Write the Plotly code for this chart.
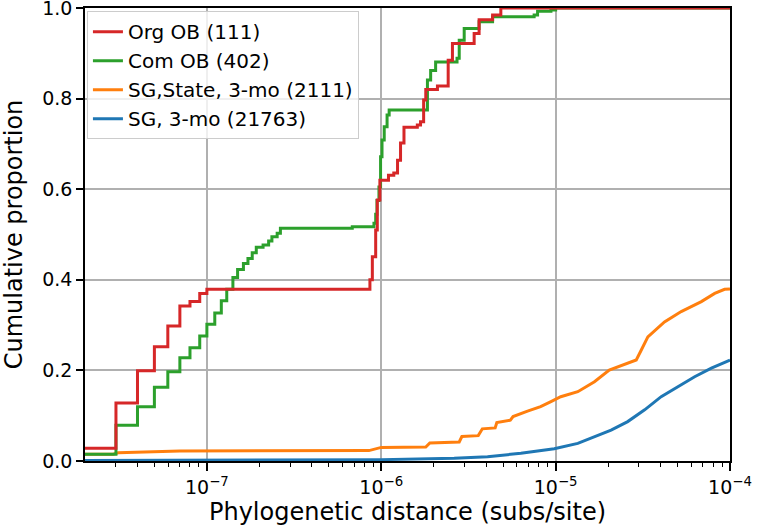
import plotly.graph_objects as go

# --------------------------------------------------------------
# ECDF values (distance, cumulative share)
# --------------------------------------------------------------
org_x = [2e-8, 3.01e-8, 4.0e-8, 5.0e-8, 5.97e-8, 7.0e-8, 8.0e-8, 9.1e-8, 1.0e-7,
         8.61e-7, 8.89e-7, 9.29e-7, 9.49e-7, 9.82e-7, 1.10e-6, 1.18e-6, 1.24e-6,
         1.29e-6, 1.35e-6, 1.61e-6, 1.68e-6, 1.75e-6, 1.80e-6, 2.10e-6, 2.42e-6,
         2.56e-6, 3.41e-6, 3.64e-6, 4.35e-6, 4.85e-6, 1e-4]
org_y = [0.028, 0.128, 0.199, 0.252, 0.298, 0.342, 0.352, 0.370, 0.379,
         0.40, 0.451, 0.51, 0.576, 0.62, 0.631, 0.636, 0.664,
         0.702, 0.737, 0.742, 0.749, 0.797, 0.82, 0.828, 0.885,
         0.922, 0.944, 0.974, 0.985, 1.0, 1.0]

com_x = [2e-8, 3.01e-8, 4.0e-8, 5.0e-8, 5.97e-8, 7.0e-8, 8.0e-8, 9.1e-8, 1.0e-7,
         1.11e-7, 1.21e-7, 1.30e-7, 1.41e-7, 1.50e-7, 1.62e-7, 1.72e-7, 1.82e-7,
         1.92e-7, 2.10e-7, 2.26e-7, 2.36e-7, 2.53e-7, 2.64e-7, 6.82e-7, 9.08e-7,
         9.29e-7, 9.45e-7, 9.70e-7, 9.91e-7, 1.01e-6, 1.04e-6, 1.08e-6, 1.11e-6,
         1.84e-6, 1.92e-6, 2.05e-6, 2.72e-6, 2.80e-6, 2.99e-6, 3.64e-6, 4.35e-6,
         7.53e-6, 7.88e-6, 9.40e-6, 1.0e-5, 1e-4]
com_y = [0.015, 0.079, 0.12, 0.163, 0.197, 0.228, 0.25, 0.276, 0.302,
         0.327, 0.354, 0.379, 0.405, 0.423, 0.436, 0.447, 0.46,
         0.472, 0.477, 0.486, 0.495, 0.503, 0.514, 0.517, 0.525,
         0.545, 0.575, 0.605, 0.672, 0.709, 0.738, 0.764, 0.775,
         0.841, 0.862, 0.881, 0.889, 0.929, 0.955, 0.970, 0.981,
         0.985, 0.993, 0.996, 1.0, 1.0]

state_x = [2e-8, 2.9e-8, 3.1e-8, 5.2e-8, 7e-8, 8.5e-7, 9.0e-7, 1.0e-6, 1.8e-6,
           1.9e-6, 2.8e-6, 2.9e-6, 3.6e-6, 3.7e-6, 3.8e-6, 4.5e-6, 4.6e-6,
           5.5e-6, 5.7e-6, 6.9e-6, 8.2e-6, 9.4e-6, 1.07e-5, 1.34e-5, 1.67e-5,
           2.03e-5, 2.43e-5, 2.9e-5, 3.1e-5, 3.38e-5, 4.21e-5, 5.25e-5, 6.85e-5,
           8.17e-5, 9.31e-5, 1e-4]
state_y = [0.015, 0.015, 0.018, 0.02, 0.022, 0.023, 0.026, 0.030, 0.031,
           0.040, 0.042, 0.054, 0.056, 0.063, 0.071, 0.073, 0.085,
           0.090, 0.098, 0.11, 0.12, 0.131, 0.142, 0.153, 0.175,
           0.201, 0.212, 0.223, 0.245, 0.274, 0.307, 0.33, 0.352,
           0.37, 0.379, 0.38]

sg_x = [2e-8, 1e-7, 1e-6, 2.62e-6, 4.07e-6, 6.32e-6, 9.82e-6, 1.34e-5, 1.67e-5,
        2.08e-5, 2.59e-5, 3.24e-5, 4.03e-5, 5.03e-5, 6.27e-5, 7.82e-5, 1e-4]
sg_y = [0.001, 0.002, 0.003, 0.006, 0.0095, 0.017, 0.027, 0.039, 0.054,
        0.068, 0.087, 0.113, 0.142, 0.164, 0.186, 0.205, 0.223]

labels = ["Org OB (111)", "Com OB (402)", "SG,State, 3-mo (2111)", "SG, 3-mo (21763)"]
colors = ["#d62728", "#2ca02c", "#ff7f0e", "#1f77b4"]

x_tickvals = [1e-7, 1e-6, 1e-5, 1e-4]
x_ticktext = ["10<sup>−7</sup>", "10<sup>−6</sup>", "10<sup>−5</sup>", "10<sup>−4</sup>"]
y_tickvals = [0, 0.2, 0.4, 0.6, 0.8, 1.0]
y_ticktext = ["0.0", "0.2", "0.4", "0.6", "0.8", "1.0"]

FONT = "DejaVu Sans"

fig = go.Figure()

# drawn bottom-up so red ends on top; legend reversed to keep the original order
fig.add_trace(go.Scatter(x=sg_x, y=sg_y, name=labels[3], mode="lines",
                         line=dict(color=colors[3], width=3)))
fig.add_trace(go.Scatter(x=state_x, y=state_y, name=labels[2], mode="lines",
                         line=dict(color=colors[2], width=3)))
fig.add_trace(go.Scatter(x=com_x, y=com_y, name=labels[1], mode="lines",
                         line=dict(color=colors[1], width=3, shape="hv")))
fig.add_trace(go.Scatter(x=org_x, y=org_y, name=labels[0], mode="lines",
                         line=dict(color=colors[0], width=3, shape="hv")))

minor_vals = [m * 10.0 ** e for e in range(-8, -4) for m in range(2, 10)
              if 2e-8 < m * 10.0 ** e < 1e-4]

fig.update_xaxes(
    type="log",
    range=[-7.69897, -4],
    tickmode="array", tickvals=x_tickvals, ticktext=x_ticktext,
    ticks="outside", ticklen=8, tickwidth=1.5, tickcolor="black",
    showline=True, mirror=True, linecolor="black", linewidth=1.5,
    showgrid=True, gridcolor="#b0b0b0", gridwidth=1.5,
    zeroline=False, automargin=False, ticklabeloverflow="allow",
    tickfont=dict(family=FONT, size=19, color="black"),
    title=dict(text="Phylogenetic distance (subs/site)",
               font=dict(family=FONT, size=24, color="black"), standoff=4),
    minor=dict(tickmode="array", tickvals=minor_vals, ticks="outside",
               ticklen=4, tickwidth=1.2, tickcolor="black", showgrid=False),
)
fig.update_yaxes(
    range=[0, 1.0002],
    tickmode="array", tickvals=y_tickvals, ticktext=y_ticktext,
    ticks="outside", ticklen=7, tickwidth=1.5, tickcolor="black",
    showline=True, mirror=True, linecolor="black", linewidth=1.5,
    showgrid=True, gridcolor="#b0b0b0", gridwidth=1.5,
    zeroline=False, automargin=False, ticklabeloverflow="allow",
    tickfont=dict(family=FONT, size=19, color="black"),
    title=dict(text="Cumulative proportion",
               font=dict(family=FONT, size=24, color="black"), standoff=20),
)

fig.update_layout(
    width=784, height=527,
    margin=dict(l=85, r=54, t=8, b=66),
    paper_bgcolor="white", plot_bgcolor="white",
    font=dict(family=FONT, color="black"),
    legend=dict(
        x=0.003, y=0.993, xanchor="left", yanchor="top",
        traceorder="reversed",
        bgcolor="rgba(255,255,255,0.8)",
        bordercolor="#cccccc", borderwidth=1,
        font=dict(family=FONT, size=20, color="black"),
    ),
    showlegend=True,
)

# browser default body margin would shift the figure by 8px
fig.write_html("out.html", config={"displayModeBar": False},
               post_script="document.body.style.margin='0';")
